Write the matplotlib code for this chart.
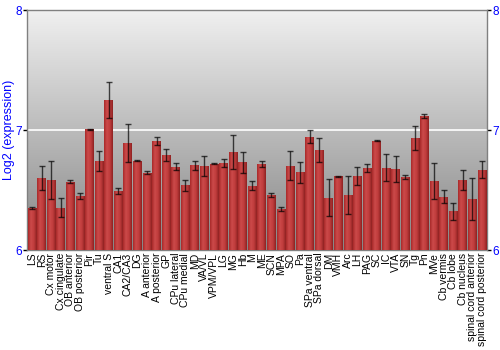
import numpy as np
import matplotlib
matplotlib.use("Agg")
import matplotlib.pyplot as plt
from matplotlib.colors import LinearSegmentedColormap

regions = ["LS", "RS", "Cx motor", "Cx cingulate", "OB anterior", "OB posterior", "Pir", "Tu",
           "ventral S", "CA1", "CA2/CA3", "DG", "A anterior", "A posterior", "GP", "CPu lateral",
           "CPu medial", "MD", "VA/VL", "VPM/VPL", "LG", "MG", "Hb", "M", "ME", "SCN", "MPA", "SO",
           "Pa", "SPa ventral", "SPa dorsal", "DM", "VMH", "Arc", "LH", "PAG", "SC", "IC", "VTA",
           "SN", "Tg", "Pn", "MVe", "Cb vermis", "Cb lobe", "Cb nucleus", "spinal cord anterior",
           "spinal cord posterior"]
expression = [6.353, 6.60, 6.583, 6.353, 6.569, 6.45, 7.006, 6.742,
              7.25, 6.492, 6.894, 6.742, 6.644, 6.908, 6.792, 6.692,
              6.539, 6.708, 6.70, 6.717, 6.725, 6.819, 6.731, 6.536, 6.717, 6.456, 6.344, 6.703,
              6.647, 6.944, 6.833, 6.436, 6.614, 6.458, 6.617, 6.683, 6.911, 6.686, 6.675,
              6.611, 6.933, 7.114, 6.578, 6.442, 6.322, 6.583, 6.425,
              6.667]
error = [0.008, 0.10, 0.16, 0.08, 0.014, 0.026, 0.005, 0.086,
         0.15, 0.024, 0.16, 0.004, 0.013, 0.03, 0.05, 0.029,
         0.044, 0.0375, 0.08, 0.004, 0.03, 0.143, 0.089, 0.039, 0.028, 0.017, 0.015, 0.118,
         0.09, 0.056, 0.097, 0.153, 0.004, 0.156, 0.076, 0.03, 0.005, 0.111, 0.108,
         0.018, 0.097, 0.017, 0.15, 0.054, 0.072, 0.086, 0.172,
         0.071]
yticks = [6, 7, 8]
ylabel = "Log2 (expression)"

plt.rcParams['font.family'] = ['Liberation Sans', 'DejaVu Sans']

fig = plt.figure(figsize=(5, 3.5), dpi=100)
ax = fig.add_axes([0.0546, 0.2857, 0.9188, 0.6857])

ymin, ymax = 6, 8
n = len(regions)
x = np.arange(n)

# background gradient
bg = LinearSegmentedColormap.from_list("bg", ["#868686", "#f0f0f0"])
grad = np.linspace(0, 1, 256).reshape(-1, 1)
ax.imshow(grad, cmap=bg, aspect='auto', origin='lower',
          extent=[-0.5, n - 0.5, ymin, ymax], zorder=0)

ax.axhline(7, color='white', lw=1.2, zorder=1)

vals = np.array(expression)
bars = ax.bar(x, vals - ymin, bottom=ymin, width=0.92, color='#b53434',
              edgecolor='none', zorder=2)

barcm = LinearSegmentedColormap.from_list("bar", ["#a82a2a", "#cc4a4a", "#c03c3c", "#8e2222"])
hgrad = np.linspace(0, 1, 64).reshape(1, -1)
for b in bars:
    x0, y0 = b.get_x(), b.get_y()
    w, h = b.get_width(), b.get_height()
    im = ax.imshow(hgrad, cmap=barcm, aspect='auto',
                   extent=[x0, x0 + w, y0, y0 + h], zorder=3)
    im.set_clip_path(b)

ax.errorbar(x, vals, yerr=error, fmt='none', ecolor='black', elinewidth=1.0,
            capsize=2, capthick=1.0, alpha=0.7, zorder=4)

ax.set_xlim(-0.5, n - 0.5)
ax.set_ylim(ymin, ymax)
ax.set_yticks(yticks)
ax.set_yticklabels([str(t) for t in yticks])
ax.tick_params(axis='y', colors='black', labelcolor='#0000ff', labelsize=8.5,
               length=3, width=1, left=True, right=True, labelleft=True, labelright=True, pad=1)
ax.set_xticks(x)
ax.set_xticklabels(regions, rotation=90, fontsize=7.5)
ax.tick_params(axis='x', length=0, pad=2)
ax.set_ylabel(ylabel, color='#0000ff', fontsize=9, labelpad=0)

for s in ax.spines.values():
    s.set_color('#808080')
    s.set_linewidth(1)

fig.savefig("out.png", dpi=100)
